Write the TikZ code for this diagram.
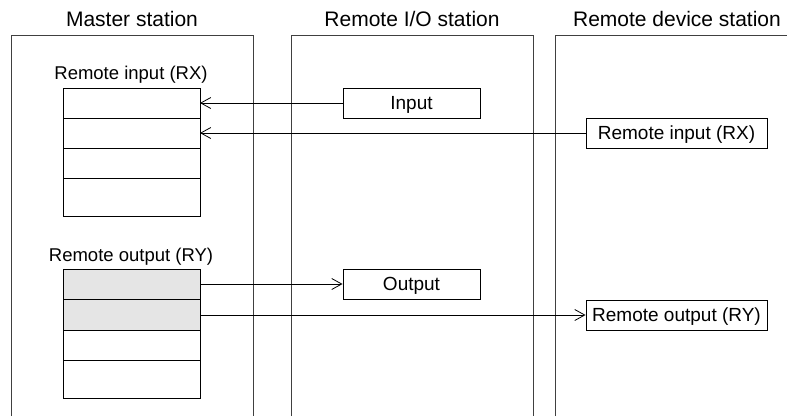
\documentclass[tikz,border=0pt]{standalone}
\usepackage{fontspec}
\setmainfont{Liberation Sans}
\usetikzlibrary{arrows.meta}
\begin{document}
\begin{tikzpicture}[x=1pt,y=-1pt,
  frame/.style={draw=black!75,line width=0.9pt},
  cell/.style={draw=black,line width=0.9pt,fill=white},
  graycell/.style={draw=black,line width=0.9pt,fill=black!10},
  lbox/.style={draw=black,line width=0.9pt,fill=white,minimum height=30pt,inner sep=0pt,text height=13.5pt,text depth=0pt,font=\fontsize{19}{21}\selectfont},
  title/.style={anchor=base,inner sep=0pt,font=\fontsize{21}{24}\selectfont},
  lab/.style={anchor=base,inner sep=0pt,font=\fontsize{18.5}{21}\selectfont},
  arr/.style={draw=black,line width=0.8pt,-{Straight Barb[length=10pt,width=11pt]}}]
\useasboundingbox (0,0) rectangle (787,416);
% station frames
\draw[frame] (11,416) -- (11,35) -- (253,35) -- (253,416);
\draw[frame] (291,416) -- (291,35) -- (533,35) -- (533,416);
\draw[frame] (555,416) -- (555,35) -- (787,35);
% titles
\node[title] (t1) at (132,26) {Master station};
\node[title] (t2) at (412,26) {Remote I/O station};
\node[title] (t3) at (677,26) {Remote device station};
% RX table
\node[lab] (rxl) at (131,79) {Remote input (RX)};
\path[cell] (63,88) rectangle (200,118);
\path[cell] (63,118) rectangle (200,148);
\path[cell] (63,148) rectangle (200,178);
\path[cell] (63,178) rectangle (200,216);
\coordinate (rx1) at (200,103);
\coordinate (rx2) at (200,133);
% RY table
\node[lab] (ryl) at (131,261) {Remote output (RY)};
\path[graycell] (63,269) rectangle (200,299);
\path[graycell] (63,299) rectangle (200,330);
\path[cell] (63,330) rectangle (200,360);
\path[cell] (63,360) rectangle (200,398);
\coordinate (ry1) at (200,284);
\coordinate (ry2) at (200,315);
% remote boxes
\node[lbox,minimum width=137pt] (in) at (411.5,103) {Input};
\node[lbox,minimum width=181pt] (rin) at (676.5,133) {Remote input (RX)};
\node[lbox,minimum width=137pt] (out) at (411.5,284) {Output};
\node[lbox,minimum width=181pt] (rout) at (676.5,315) {Remote output (RY)};
% arrows
\draw[arr] (in.west) -- (rx1);
\draw[arr] (rin.west) -- (rx2);
\draw[arr] (ry1) -- (out.west);
\draw[arr] (ry2) -- (rout.west);
\end{tikzpicture}
\end{document}
